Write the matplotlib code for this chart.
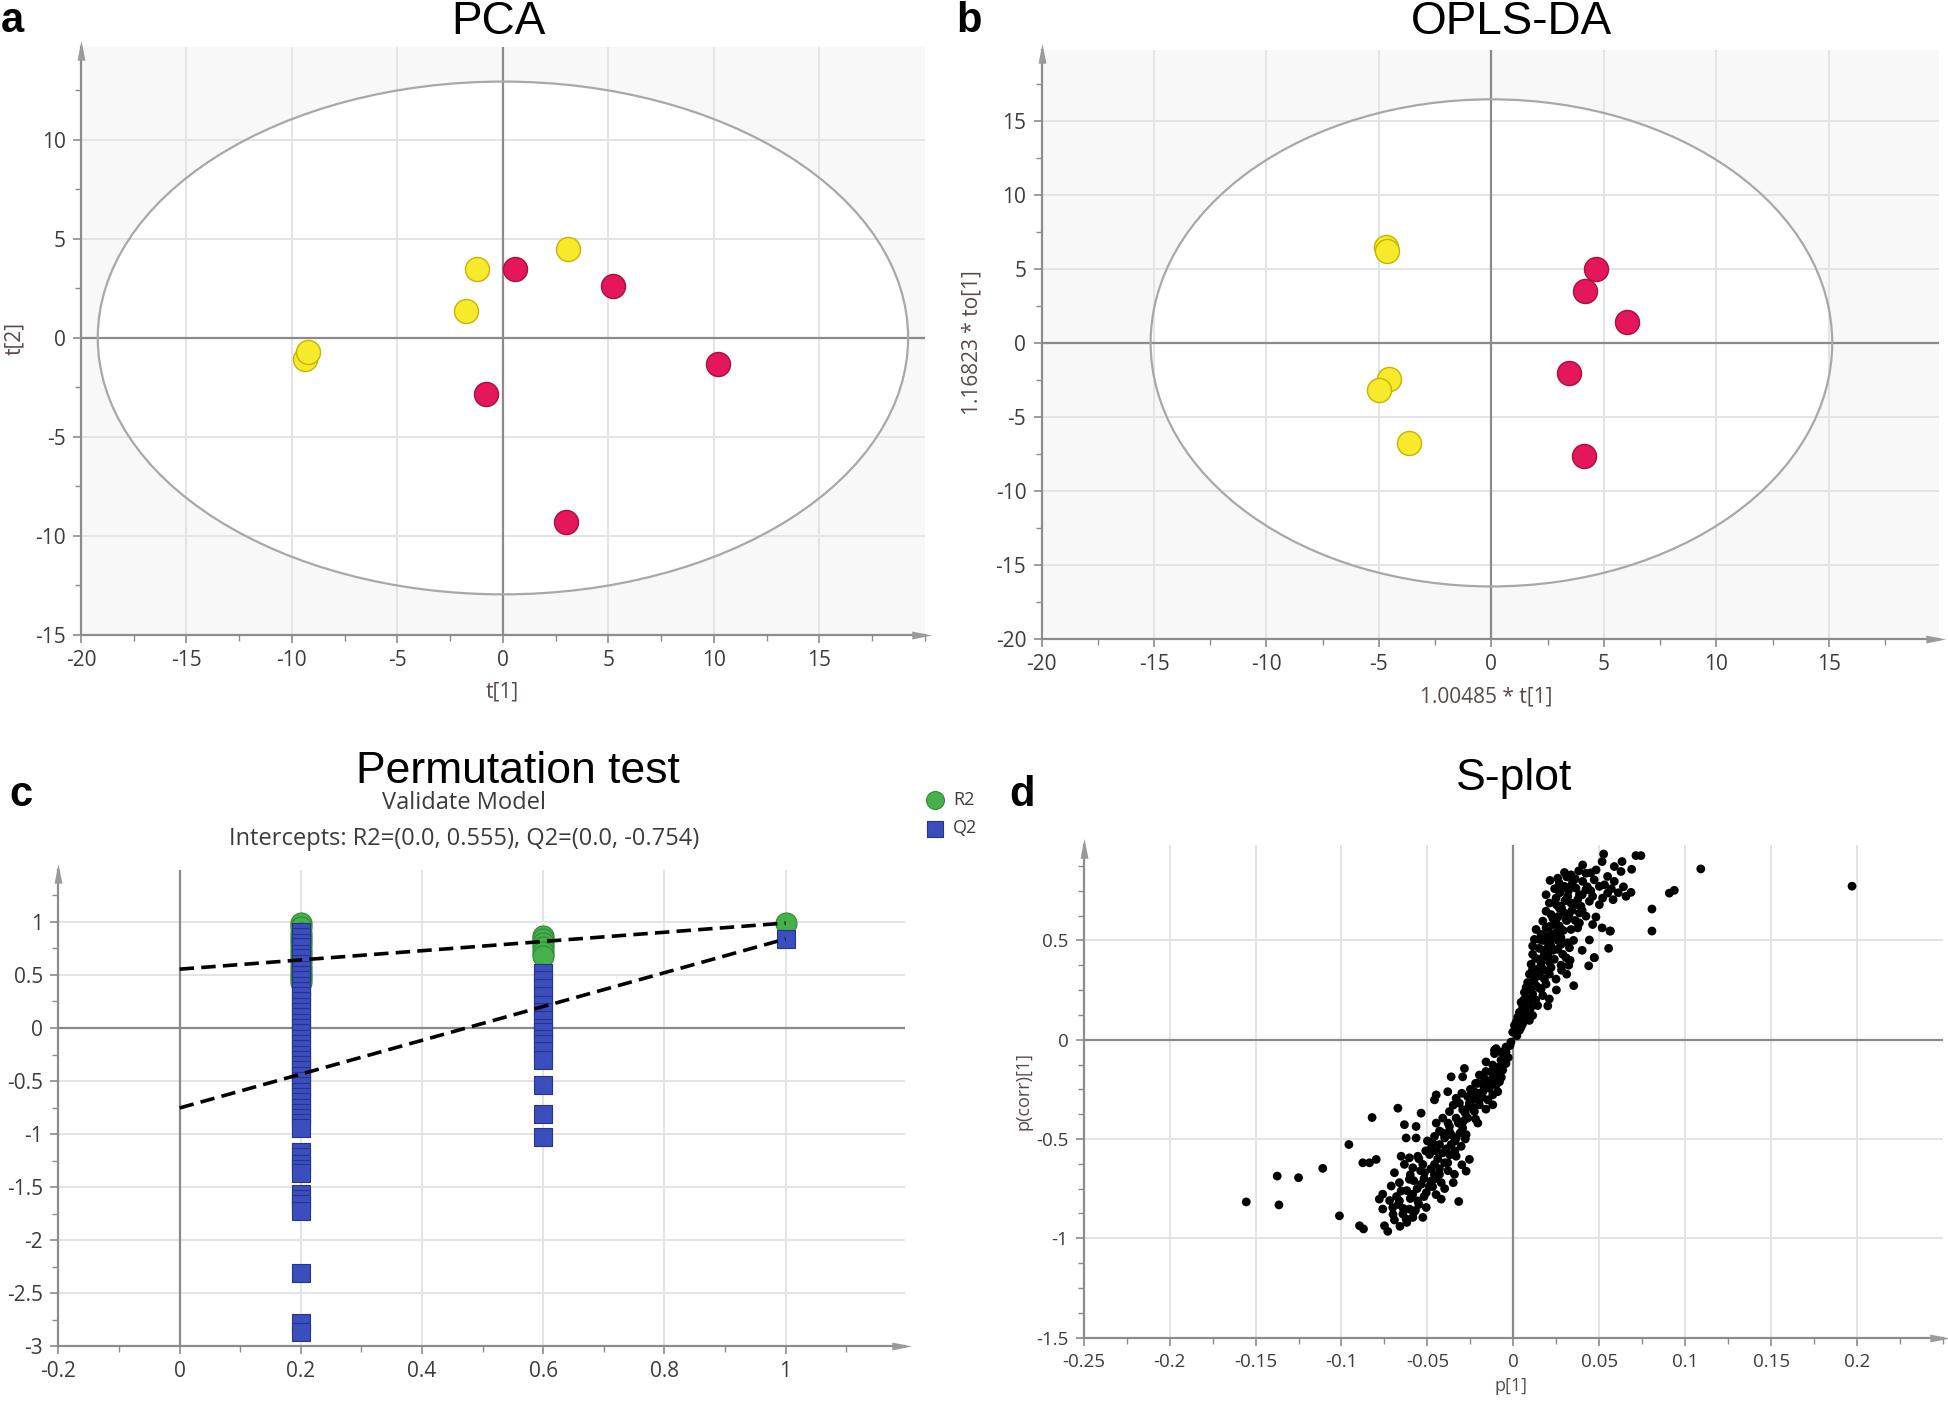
import numpy as np
import matplotlib
matplotlib.use("Agg")
import matplotlib.pyplot as plt
from matplotlib.patches import Ellipse
from matplotlib.ticker import FixedLocator, MultipleLocator, FuncFormatter

plt.rcParams['font.family'] = ['Open Sans', 'DejaVu Sans']
plt.rcParams['axes.unicode_minus'] = False

# ---- panel a: PCA scores ----
pca_yellow_t1 = [-9.39, -9.25, -1.21, -1.73, 3.09]
pca_yellow_t2 = [-1.05, -0.72, 3.49, 1.35, 4.47]
pca_red_t1 = [0.58, 5.23, 10.17, -0.78, 3.0]
pca_red_t2 = [3.49, 2.63, -1.30, -2.84, -9.3]
pca_ellipse = (19.2, 12.95)  # half axes of Hotelling T2

# ---- panel b: OPLS-DA scores ----
opls_yellow_t1 = [-4.68, -4.66, -4.54, -4.99, -3.65]
opls_yellow_to1 = [6.46, 6.21, -2.42, -3.2, -6.77]
opls_red_t1 = [4.63, 4.15, 6.03, 3.45, 4.1]
opls_red_to1 = [5.0, 3.48, 1.43, -2.02, -7.67]
opls_ellipse = (15.15, 16.45)

# ---- panel c: permutation test ----
r2_at_02 = [0.99, 0.95, 0.9, 0.86, 0.82, 0.78, 0.74, 0.7, 0.66, 0.62,
            0.58, 0.54, 0.5, 0.47, 0.43]
q2_at_02 = [0.91, 0.86, 0.8, 0.76, 0.7, 0.66, 0.6, 0.55, 0.5, 0.45, 0.4,
            0.35, 0.3, 0.25, 0.2, 0.15, 0.1, 0.05, 0.0, -0.05, -0.1, -0.15,
            -0.2, -0.25, -0.3, -0.35, -0.4, -0.45, -0.5, -0.55, -0.6, -0.65,
            -0.7, -0.75, -0.8, -0.85, -0.9, -0.94, -1.17, -1.22, -1.28,
            -1.33, -1.37, -1.57, -1.61, -1.66, -1.73, -2.31, -2.78, -2.87]
r2_at_06 = [0.87, 0.84, 0.8, 0.76, 0.72, 0.68]
q2_at_06 = [0.52, 0.45, 0.38, 0.3, 0.22, 0.15, 0.08, 0.0, -0.04, -0.1,
            -0.15, -0.22, -0.3, -0.54, -0.81, -1.03]
r2_orig = 0.99
q2_orig = 0.84
r2_intercept = 0.555
q2_intercept = -0.754

# ---- panel d: S-plot (p[1], p(corr)[1]) ----
splot_points = [
    # upper arm
    (0.0525, 0.935), (0.0713, 0.927), (0.0742, 0.927), (0.0516, 0.897), (0.0632, 0.897),
    (0.0403, 0.88), (0.0587, 0.872), (0.0626, 0.847), (0.0688, 0.858), (0.0297, 0.842),
    (0.0335, 0.83), (0.0213, 0.802), (0.0267, 0.788), (0.0403, 0.797), (0.047, 0.805),
    (0.0548, 0.822), (0.0587, 0.797), (0.0297, 0.772), (0.0364, 0.763), (0.0422, 0.755),
    (0.05, 0.772), (0.0684, 0.742), (0.0655, 0.722), (0.019, 0.73), (0.0248, 0.713),
    (0.0316, 0.722), (0.0384, 0.73), (0.0442, 0.697), (0.0519, 0.713), (0.058, 0.705),
    (0.0548, 0.738), (0.0209, 0.688), (0.0277, 0.672), (0.0393, 0.672), (0.0806, 0.658),
    (0.0219, 0.63), (0.0297, 0.638), (0.0422, 0.622), (0.048, 0.618), (0.0384, 0.588),
    (0.0461, 0.58), (0.0516, 0.563), (0.0564, 0.547), (0.0806, 0.547), (0.0132, 0.555),
    (0.019, 0.563), (0.0267, 0.572), (0.0335, 0.555), (0.0374, 0.563), (0.0151, 0.505),
    (0.0219, 0.505), (0.0277, 0.513), (0.0316, 0.488), (0.0442, 0.502), (0.0554, 0.46),
    (0.0112, 0.472), (0.019, 0.455), (0.0258, 0.455), (0.0326, 0.463), (0.047, 0.413),
    (0.0438, 0.372), (0.0112, 0.43), (0.0171, 0.413), (0.0238, 0.405), (0.0306, 0.413),
    (0.0103, 0.38), (0.0161, 0.372), (0.0219, 0.363), (0.0277, 0.375), (0.0322, 0.375),
    (0.0093, 0.33), (0.0151, 0.322), (0.0209, 0.33), (0.031, 0.33), (0.0351, 0.272),
    (0.0083, 0.288), (0.0132, 0.272), (0.019, 0.28), (0.0064, 0.238), (0.0112, 0.23),
    (0.0171, 0.222), (0.0209, 0.205), (0.0045, 0.188), (0.0093, 0.18), (0.0141, 0.172),
    (0.0035, 0.138), (0.0074, 0.13), (0.0112, 0.122), (0.0016, 0.088), (0.0054, 0.08),
    (0.0093, 0.097), (-0.0004, 0.038), (0.0035, 0.047), (0.0248, 0.605), (0.0171, 0.597),
    (0.0306, 0.605), (0.0161, 0.53), (0.0248, 0.538), (0.0122, 0.505), (0.0287, 0.43),
    (0.02, 0.422), (0.0141, 0.355), (0.018, 0.305), (0.0248, 0.305), (0.0122, 0.305),
    (0.0074, 0.263), (0.0161, 0.255), (0.0093, 0.205), (0.0054, 0.163), (0.0025, 0.113),
    (0.0006, 0.072), (0.0045, 0.063), (0.019, 0.647), (0.0267, 0.663), (0.0335, 0.688),
    (0.0374, 0.705), (0.0461, 0.722), (0.05, 0.68), (0.0345, 0.797), (0.0422, 0.838),
    (0.0481, 0.855), (0.0258, 0.813), (0.0384, 0.638), (0.0326, 0.613), (0.0277, 0.48),
    (0.0219, 0.472), (0.109, 0.86), (0.197, 0.773), (0.0907, 0.738), (0.0936, 0.752),
    (0.0562, 0.547), (0.0471, 0.413),
    (0.002, 0.02), (0.004, 0.1), (0.006, 0.15), (0.008, 0.2), (0.01, 0.25),
    (0.012, 0.28), (0.014, 0.34), (0.016, 0.39), (0.018, 0.44), (0.02, 0.49),
    (0.022, 0.53), (0.024, 0.58), (0.026, 0.62), (0.028, 0.66), (0.03, 0.7),
    (0.032, 0.75), (0.034, 0.78), (0.036, 0.81), (0.007, 0.11), (0.01, 0.16),
    (0.013, 0.2), (0.015, 0.26), (0.018, 0.35), (0.021, 0.39), (0.023, 0.45),
    (0.026, 0.5), (0.029, 0.55), (0.031, 0.6), (0.034, 0.65), (0.037, 0.68),
    (0.04, 0.73), (0.043, 0.77), (0.003, 0.06), (0.006, 0.2), (0.009, 0.27),
    (0.011, 0.35), (0.013, 0.41), (0.015, 0.46), (0.017, 0.5), (0.019, 0.52),
    (0.021, 0.57), (0.023, 0.61), (0.025, 0.68), (0.027, 0.74), (0.029, 0.77),
    (0.031, 0.82), (0.024, 0.76), (0.036, 0.6), (0.04, 0.65), (0.045, 0.75),
    (0.053, 0.78), (0.057, 0.76), (0.061, 0.74), (0.064, 0.77), (0.045, 0.84),
    (0.038, 0.85), (0.033, 0.4), (0.04, 0.45), (0.035, 0.5), (0.028, 0.35),
    (0.025, 0.25), (0.02, 0.17),
    # centre and lower arm
    (-0.0014, -0.012), (-0.0043, -0.037), (-0.011, -0.053), (-0.0072, -0.062),
    (-0.0043, -0.062), (-0.0101, -0.045), (-0.011, -0.07), (-0.0072, -0.103), (-0.0062, -0.153),
    (-0.0285, -0.145), (-0.0362, -0.187), (-0.0295, -0.187), (-0.0198, -0.178), (-0.0169, -0.195),
    (-0.013, -0.203), (-0.0101, -0.228), (-0.0207, -0.22), (-0.014, -0.245), (-0.0091, -0.262),
    (-0.0178, -0.262), (-0.0227, -0.262), (-0.0382, -0.262), (-0.0449, -0.278), (-0.0459, -0.303),
    (-0.0333, -0.295), (-0.0266, -0.287), (-0.0314, -0.32), (-0.0256, -0.32), (-0.0198, -0.328),
    (-0.012, -0.328), (-0.0672, -0.345), (-0.0537, -0.37), (-0.0372, -0.362), (-0.0295, -0.353),
    (-0.0227, -0.362), (-0.0822, -0.392), (-0.0411, -0.395), (-0.0333, -0.395), (-0.0266, -0.395),
    (-0.0207, -0.42), (-0.0634, -0.428), (-0.0566, -0.437), (-0.0449, -0.42), (-0.0372, -0.437),
    (-0.0295, -0.445), (-0.0372, -0.462), (-0.0624, -0.495), (-0.0566, -0.495), (-0.0459, -0.487),
    (-0.04, -0.495), (-0.0333, -0.495), (-0.0275, -0.478), (-0.043, -0.528), (-0.0362, -0.528),
    (-0.0304, -0.537), (-0.0478, -0.545), (-0.0488, -0.578), (-0.0411, -0.57), (-0.0333, -0.587),
    (-0.0653, -0.587), (-0.0605, -0.595), (-0.0556, -0.587), (-0.0256, -0.603), (-0.0876, -0.62),
    (-0.0837, -0.62), (-0.0798, -0.603), (-0.0692, -0.67), (-0.0634, -0.628), (-0.0585, -0.645),
    (-0.0527, -0.628), (-0.0459, -0.628), (-0.0382, -0.62), (-0.0517, -0.67), (-0.043, -0.678),
    (-0.0343, -0.678), (-0.0275, -0.662), (-0.0663, -0.72), (-0.0605, -0.703), (-0.0537, -0.728),
    (-0.0478, -0.712), (-0.042, -0.72), (-0.0711, -0.737), (-0.076, -0.778), (-0.0653, -0.762),
    (-0.0585, -0.778), (-0.0507, -0.77), (-0.078, -0.803), (-0.0663, -0.812), (-0.0556, -0.812),
    (-0.042, -0.803), (-0.0318, -0.815), (-0.076, -0.853), (-0.0702, -0.845), (-0.0605, -0.853),
    (-0.0507, -0.845), (-0.0643, -0.878), (-0.0585, -0.895), (-0.0527, -0.895), (-0.0692, -0.908),
    (-0.0624, -0.903), (-0.075, -0.937), (-0.0872, -0.953), (-0.0731, -0.965),
    (-0.0159, -0.112), (-0.012, -0.128), (-0.0081, -0.137), (-0.0043, -0.12), (-0.013, -0.162),
    (-0.0091, -0.178), (-0.0159, -0.212), (-0.0081, -0.212), (-0.012, -0.278), (-0.0149, -0.303),
    (-0.0198, -0.303), (-0.018, -0.29), (-0.024, -0.34), (-0.028, -0.37), (-0.032, -0.42),
    (-0.036, -0.48), (-0.039, -0.55), (-0.044, -0.6), (-0.048, -0.65), (-0.052, -0.7),
    (-0.056, -0.75), (-0.06, -0.8), (-0.064, -0.85), (-0.047, -0.74), (-0.038, -0.66),
    (-0.034, -0.56), (-0.028, -0.5), (-0.022, -0.4), (-0.016, -0.35), (-0.007, -0.19),
    (-0.003, -0.09), (-0.054, -0.66), (-0.045, -0.56), (-0.041, -0.47), (-0.05, -0.51),
    (-0.06, -0.68), (-0.068, -0.79), (-0.07, -0.88), (-0.057, -0.86), (-0.045, -0.78),
    (-0.002, -0.03), (-0.005, -0.09), (-0.008, -0.15), (-0.011, -0.19), (-0.014, -0.22),
    (-0.017, -0.24), (-0.02, -0.27), (-0.023, -0.3), (-0.026, -0.34), (-0.029, -0.41),
    (-0.031, -0.47), (-0.034, -0.51), (-0.037, -0.58), (-0.04, -0.62), (-0.043, -0.65),
    (-0.046, -0.68), (-0.049, -0.74), (-0.052, -0.79), (-0.055, -0.83), (-0.058, -0.87),
    (-0.062, -0.92), (-0.066, -0.94), (-0.006, -0.12), (-0.01, -0.16), (-0.016, -0.16),
    (-0.022, -0.22), (-0.025, -0.25), (-0.03, -0.27), (-0.035, -0.33), (-0.038, -0.42),
    (-0.043, -0.46), (-0.047, -0.52), (-0.051, -0.56), (-0.055, -0.6), (-0.058, -0.71),
    (-0.062, -0.76), (-0.067, -0.83), (-0.072, -0.81), (-0.045, -0.7), (-0.04, -0.75),
    (-0.035, -0.72), (-0.03, -0.63),
    # far left outliers
    (-0.1554, -0.817), (-0.1374, -0.687), (-0.1364, -0.832), (-0.125, -0.695), (-0.1109, -0.648),
    (-0.1012, -0.887), (-0.0957, -0.528), (-0.0895, -0.937),
]
splot_p1 = [p[0] for p in splot_points]
splot_pcorr = [p[1] for p in splot_points]

# ---- helpers ----
TICK_C = '#3c3c3c'
AX_C = '#8c8c8c'
LAB_C = '#5a4848'
ARROW_R = [(-2, -0.6), (1, 0), (-2, 0.6), (-2, -0.6)]
ARROW_U = [(-0.6, -2), (0, 1), (0.6, -2), (-0.6, -2)]


def fmt(v, pos):
    if abs(v) < 1e-9:
        return "0"
    return f"{round(v, 4):g}"


def style(ax, xt, yt, xminor, yminor, lims, fs):
    ax.set_xlim(lims[0], lims[1])
    ax.set_ylim(lims[2], lims[3])
    ax.xaxis.set_major_locator(FixedLocator(xt))
    ax.yaxis.set_major_locator(FixedLocator(yt))
    ax.xaxis.set_minor_locator(MultipleLocator(xminor))
    ax.yaxis.set_minor_locator(MultipleLocator(yminor))
    ax.xaxis.set_major_formatter(FuncFormatter(fmt))
    ax.yaxis.set_major_formatter(FuncFormatter(fmt))
    for s in ['top', 'right']:
        ax.spines[s].set_visible(False)
    for s in ['left', 'bottom']:
        ax.spines[s].set_color(AX_C)
        ax.spines[s].set_linewidth(1.6)
    ax.tick_params(which='major', direction='out', length=6, width=1.2,
                   color=AX_C, labelcolor=TICK_C, labelsize=fs, pad=5)
    ax.tick_params(which='minor', direction='out', length=4, width=1.0, color=AX_C)
    ax.set_axisbelow(True)
    ax.grid(True, which='major', color='#e4e4e4', lw=1.4)
    ax.axhline(0, color='#8a8a8a', lw=1.6, zorder=1)
    ax.axvline(0, color='#8a8a8a', lw=1.6, zorder=1)
    ax.plot([1], [0], marker=ARROW_R, ms=19, color='#9a9a9a', mec='none',
            transform=ax.transAxes, clip_on=False, zorder=5)
    ax.plot([0], [1], marker=ARROW_U, ms=19, color='#9a9a9a', mec='none',
            transform=ax.transAxes, clip_on=False, zorder=5)


fig = plt.figure(figsize=(19.49, 14.01), dpi=100)

ax_a = fig.add_axes([0.0415, 0.5468, 0.4331, 0.4197])
ax_b = fig.add_axes([0.5344, 0.5439, 0.4605, 0.4206])
ax_c = fig.add_axes([0.030, 0.0392, 0.4343, 0.3398])
ax_d = fig.add_axes([0.556, 0.0453, 0.441, 0.3515])

YEL, YEL_E = '#f7ea2a', '#c9b200'
RED, RED_E = '#e5175a', '#a8103f'
BG = '#f8f8f8'

# panel a
style(ax_a, np.arange(-20, 16, 5), np.arange(-15, 11, 5), 2.5, 2.5,
      (-20, 20, -15, 14.7), 15)
ax_a.set_facecolor(BG)
ax_a.add_patch(Ellipse((0, 0), 2 * pca_ellipse[0], 2 * pca_ellipse[1],
                       fc='white', ec='none', zorder=0.2))
ax_a.add_patch(Ellipse((0, 0), 2 * pca_ellipse[0], 2 * pca_ellipse[1],
                       fc='none', ec='#a8a8a8', lw=1.6, zorder=1.5))
ax_a.scatter(pca_yellow_t1, pca_yellow_t2, s=300, c=YEL, edgecolors=YEL_E, lw=1, zorder=3)
ax_a.scatter(pca_red_t1, pca_red_t2, s=300, c=RED, edgecolors=RED_E, lw=1, zorder=3)

# panel b
style(ax_b, np.arange(-20, 16, 5), np.arange(-20, 16, 5), 2.5, 2.5,
      (-20, 19.9, -20, 19.8), 15)
ax_b.set_facecolor(BG)
ax_b.add_patch(Ellipse((0, 0), 2 * opls_ellipse[0], 2 * opls_ellipse[1],
                       fc='white', ec='none', zorder=0.2))
ax_b.add_patch(Ellipse((0, 0), 2 * opls_ellipse[0], 2 * opls_ellipse[1],
                       fc='none', ec='#a8a8a8', lw=1.6, zorder=1.5))
ax_b.scatter(opls_yellow_t1, opls_yellow_to1, s=300, c=YEL, edgecolors=YEL_E, lw=1, zorder=3)
ax_b.scatter(opls_red_t1, opls_red_to1, s=300, c=RED, edgecolors=RED_E, lw=1, zorder=3)

# panel c
style(ax_c, [-0.2, 0, 0.2, 0.4, 0.6, 0.8, 1.0], np.arange(-3, 1.01, 0.5), 0.1, 0.25,
      (-0.2, 1.197, -3, 1.49), 15)
GREEN, GREEN_E = '#46b04a', '#2f8a35'
BLUE, BLUE_E = '#3a4fbd', '#28348a'
r2_x = [0.2] * len(r2_at_02) + [0.6] * len(r2_at_06) + [1.0]
r2_y = r2_at_02 + r2_at_06 + [r2_orig]
q2_x = [0.2] * len(q2_at_02) + [0.6] * len(q2_at_06) + [1.0]
q2_y = q2_at_02 + q2_at_06 + [q2_orig]
ax_c.scatter(r2_x, r2_y, s=230, marker='o', c=GREEN, edgecolors=GREEN_E, lw=0.8,
             zorder=3, label='R2')
ax_c.scatter(q2_x, q2_y, s=175, marker='s', c=BLUE, edgecolors=BLUE_E, lw=0.8,
             zorder=4, label='Q2')
ax_c.plot([0, 1], [r2_intercept, r2_orig], color='black', lw=2.6, ls=(0, (4, 2)), zorder=5)
ax_c.plot([0, 1], [q2_intercept, q2_orig], color='black', lw=2.6, ls=(0, (4, 2)), zorder=5)
leg = ax_c.legend(loc='center left', bbox_to_anchor=(0.4751, 0.419),
                  bbox_transform=fig.transFigure, frameon=False, fontsize=13,
                  handlelength=1, handletextpad=0.5, borderpad=0, borderaxespad=0,
                  labelspacing=0.6, markerscale=0.85)
for t in leg.get_texts():
    t.set_color(TICK_C)

# panel d
style(ax_d, np.arange(-0.25, 0.21, 0.05), [-1.5, -1, -0.5, 0, 0.5], 0.025, 0.125,
      (-0.25, 0.25, -1.5, 0.98), 13.5)
ax_d.scatter(splot_p1, splot_pcorr, s=40, c='black', edgecolors='none', zorder=3)

# titles and labels
TFONT = ['Liberation Sans', 'DejaVu Sans']
fig.text(0.2556, 0.984, 'PCA', fontsize=33, family=TFONT, ha='center', va='center')
fig.text(0.7755, 0.984, 'OPLS-DA', fontsize=33, family=TFONT, ha='center', va='center')
fig.text(0.2658, 0.449, 'Permutation test', fontsize=32, family=TFONT, ha='center', va='center')
fig.text(0.7768, 0.444, 'S-plot', fontsize=32, family=TFONT, ha='center', va='center')
fig.text(0.238, 0.4268, 'Validate Model', fontsize=17, color='#3c3c3c', ha='center', va='center')
fig.text(0.238, 0.401, 'Intercepts: R2=(0.0, 0.555), Q2=(0.0, -0.754)', fontsize=17,
         color='#3c3c3c', ha='center', va='center')

for lx, ly, lt in [(0.0064, 0.985, 'a'), (0.4974, 0.985, 'b'),
                   (0.0108, 0.4322, 'c'), (0.5242, 0.4322, 'd')]:
    fig.text(lx, ly, lt, fontsize=30, fontweight='bold', family=TFONT,
             ha='center', va='center')

fig.text(0.2576, 0.506, 't[1]', fontsize=15, color=LAB_C, ha='center', va='center')
fig.text(0.0077, 0.7587, 't[2]', fontsize=15, color=LAB_C, ha='center', va='center', rotation=90)
fig.text(0.7624, 0.5025, '1.00485 * t[1]', fontsize=15, color=LAB_C, ha='center', va='center')
fig.text(0.4987, 0.7552, '1.16823 * to[1]', fontsize=15, color=LAB_C, ha='center', va='center',
         rotation=90)
fig.text(0.7753, 0.0107, 'p[1]', fontsize=13, color=LAB_C, ha='center', va='center')
fig.text(0.5249, 0.2213, 'p(corr)[1]', fontsize=13, color=LAB_C, ha='center', va='center',
         rotation=90)

fig.savefig('out.png', dpi=100)
